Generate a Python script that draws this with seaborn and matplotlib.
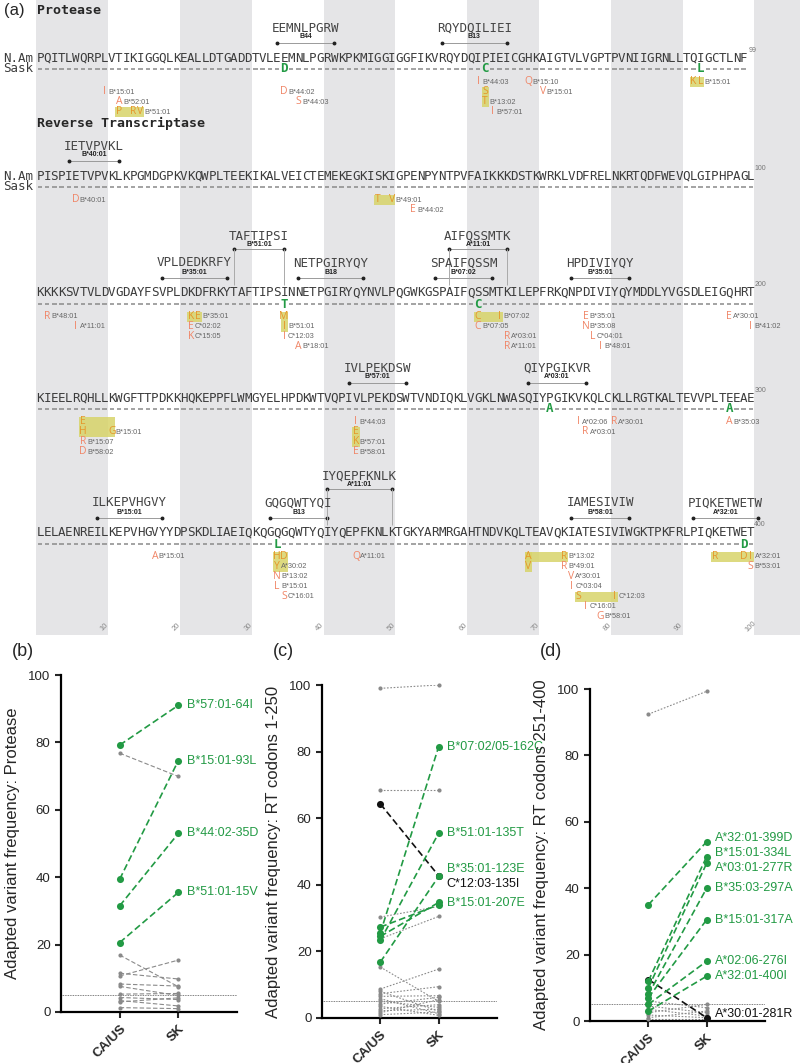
import numpy as np
import pandas as pd
import seaborn as sns
import matplotlib.pyplot as plt
from matplotlib.patches import Rectangle

# ---------------- panel (a): sequences ----------------
PROTEASE_SEQ = "PQITLWQRPLVTIKIGGQLKEALLDTGADDTVLEEMNLPGRWKPKMIGGIGGFIKVRQYDQIPIEICGHKAIGTVLVGPTPVNIIGRNLLTQIGCTLNF"
RT_SEQ_1 = "PISPIETVPVKLKPGMDGPKVKQWPLTEEKIKALVEICTEMEKEGKISKIGPENPYNTPVFAIKKKDSTKWRKLVDFRELNKRTQDFWEVQLGIPHPAGL"
RT_SEQ_2 = "KKKKSVTVLDVGDAYFSVPLDKDFRKYTAFTIPSINNETPGIRYQYNVLPQGWKGSPAIFQSSMTKILEPFRKQNPDIVIYQYMDDLYVGSDLEIGQHRT"
RT_SEQ_3 = "KIEELRQHLLKWGFTTPDKKHQKEPPFLWMGYELHPDKWTVQPIVLPEKDSWTVNDIQKLVGKLNWASQIYPGIKVKQLCKLLRGTKALTEVVPLTEEAE"
RT_SEQ_4 = "LELAENREILKEPVHGVYYDPSKDLIAEIQKQGQGQWTYQIYQEPFKNLKTGKYARMRGAHTNDVKQLTEAVQKIATESIVIWGKTPKFRLPIQKETWET"
BLOCK_SEQS = [PROTEASE_SEQ, RT_SEQ_1, RT_SEQ_2, RT_SEQ_3, RT_SEQ_4]
BLOCK_START = [1, 1, 101, 201, 301]
BLOCK_END_LABELS = ['99', '100', '200', '300', '400']

# (block, first residue, last residue, epitope, restriction, tier)
EPITOPES = [
    (0, 34, 42, 'EEMNLPGRW', 'B44', 0),
    (0, 57, 66, 'RQYDQILIEI', 'B13', 0),
    (1, 5, 12, 'IETVPVKL', 'B*40:01', 0),
    (2, 118, 127, 'VPLDEDKRFY', 'B*35:01', 0),
    (2, 128, 135, 'TAFTIPSI', 'B*51:01', 1),
    (2, 137, 146, 'NETPGIRYQY', 'B18', 0),
    (2, 156, 164, 'SPAIFQSSM', 'B*07:02', 0),
    (2, 158, 166, 'AIFQSSMTK', 'A*11:01', 1),
    (2, 175, 183, 'HPDIVIYQY', 'B*35:01', 0),
    (3, 244, 252, 'IVLPEKDSW', 'B*57:01', 0),
    (3, 269, 277, 'QIYPGIKVR', 'A*03:01', 0),
    (4, 309, 318, 'ILKEPVHGVY', 'B*15:01', 0),
    (4, 333, 341, 'GQGQWTYQI', 'B13', 0),
    (4, 341, 350, 'IYQEPFKNLK', 'A*11:01', 1),
    (4, 375, 383, 'IAMESIVIW', 'B*58:01', 0),
    (4, 392, 401, 'PIQKETWETW', 'A*32:01', 0),
]

# substitutions seen in Sask (green)
GREEN_SUBS = [(0, 35, 'D'), (0, 63, 'C'), (0, 93, 'L'),
              (2, 135, 'T'), (2, 162, 'C'),
              (3, 272, 'A'), (3, 297, 'A'),
              (4, 334, 'L'), (4, 399, 'D')]

# HLA-associated adapted variants: (block, row, [(residue, aa)], allele)
VARIANTS = [
    (0, 1, [(10, 'I')], 'B*15:01'), (0, 2, [(12, 'A')], 'B*52:01'),
    (0, 3, [(12, 'P'), (14, 'R'), (15, 'V')], 'B*51:01'),
    (0, 1, [(35, 'D')], 'B*44:02'), (0, 2, [(37, 'S')], 'B*44:03'),
    (0, 0, [(62, 'I')], 'B*44:03'), (0, 1, [(63, 'S')], ''),
    (0, 2, [(63, 'T')], 'B*13:02'), (0, 3, [(64, 'I')], 'B*57:01'),
    (0, 0, [(69, 'Q')], 'B*15:10'), (0, 1, [(71, 'V')], 'B*15:01'),
    (0, 0, [(92, 'K'), (93, 'L')], 'B*15:01'),
    (1, 0, [(6, 'D')], 'B*40:01'), (1, 0, [(48, 'T'), (50, 'V')], 'B*49:01'),
    (1, 1, [(53, 'E')], 'B*44:02'),
    (2, 0, [(102, 'R')], 'B*48:01'), (2, 1, [(106, 'I')], 'A*11:01'),
    (2, 0, [(122, 'K'), (123, 'E')], 'B*35:01'), (2, 1, [(122, 'E')], 'C*02:02'),
    (2, 2, [(122, 'K')], 'C*15:05'),
    (2, 0, [(135, 'M')], ''), (2, 1, [(135, 'I')], 'B*51:01'),
    (2, 2, [(135, 'I')], 'C*12:03'), (2, 3, [(137, 'A')], 'B*18:01'),
    (2, 0, [(162, 'C'), (165, 'I')], 'B*07:02'), (2, 1, [(162, 'C')], 'B*07:05'),
    (2, 2, [(166, 'R')], 'A*03:01'), (2, 3, [(166, 'R')], 'A*11:01'),
    (2, 0, [(177, 'E')], 'B*35:01'), (2, 1, [(177, 'N')], 'B*35:08'),
    (2, 2, [(178, 'L')], 'C*04:01'), (2, 3, [(179, 'I')], 'B*48:01'),
    (2, 0, [(197, 'E')], 'A*30:01'), (2, 1, [(200, 'I')], 'B*41:02'),
    (3, 0, [(207, 'E')], ''), (3, 1, [(207, 'H'), (211, 'G')], 'B*15:01'),
    (3, 2, [(207, 'R')], 'B*15:07'), (3, 3, [(207, 'D')], 'B*58:02'),
    (3, 0, [(245, 'I')], 'B*44:03'), (3, 1, [(245, 'E')], ''),
    (3, 2, [(245, 'K')], 'B*57:01'), (3, 3, [(245, 'E')], 'B*58:01'),
    (3, 0, [(276, 'I')], 'A*02:06'), (3, 1, [(277, 'R')], 'A*03:01'),
    (3, 0, [(281, 'R')], 'A*30:01'), (3, 0, [(297, 'A')], 'B*35:03'),
    (4, 0, [(317, 'A')], 'B*15:01'),
    (4, 0, [(334, 'H'), (335, 'D')], ''), (4, 1, [(334, 'Y')], 'A*30:02'),
    (4, 2, [(334, 'N')], 'B*13:02'), (4, 3, [(334, 'L')], 'B*15:01'),
    (4, 4, [(335, 'S')], 'C*16:01'), (4, 0, [(345, 'Q')], 'A*11:01'),
    (4, 0, [(369, 'A'), (374, 'R')], 'B*13:02'), (4, 1, [(369, 'V'), (374, 'R')], 'B*49:01'),
    (4, 2, [(375, 'V')], 'A*30:01'), (4, 3, [(375, 'I')], 'C*03:04'),
    (4, 4, [(376, 'S'), (381, 'I')], 'C*12:03'), (4, 5, [(377, 'I')], 'C*16:01'),
    (4, 6, [(379, 'G')], 'B*58:01'),
    (4, 0, [(395, 'R'), (399, 'D'), (400, 'I')], 'A*32:01'), (4, 1, [(400, 'S')], 'B*53:01'),
]

# co-occurring variants (block, first res, last res, first row, last row)
HIGHLIGHTS = [(0, 12, 15, 3, 3), (0, 63, 63, 1, 2), (0, 92, 93, 0, 0),
              (1, 48, 50, 0, 0),
              (2, 122, 123, 0, 0), (2, 135, 135, 0, 1), (2, 162, 165, 0, 0),
              (3, 207, 211, 0, 1), (3, 245, 245, 1, 2),
              (4, 334, 335, 0, 1), (4, 369, 374, 0, 0), (4, 369, 369, 0, 1),
              (4, 376, 381, 4, 4), (4, 395, 400, 0, 0)]

# ---------------- panels (b)-(d): frequencies ----------------
PR_GREEN_CA = [79.2, 39.4, 31.5, 20.6]
PR_GREEN_SK = [91.0, 74.6, 53.0, 35.5]
PR_GREEN_LABELS = ['B*57:01-64I', 'B*15:01-93L', 'B*44:02-35D', 'B*51:01-15V']
PR_GRAY_CA = [76.8, 16.9, 11.5, 10.7, 8.3, 7.6, 5.3, 4.3, 3.4, 3.0, 1.3]
PR_GRAY_SK = [69.9, 7.5, 9.8, 15.4, 7.7, 4.9, 5.5, 3.7, 1.8, 4.2, 1.0]

RT1_GREEN_CA = [25.5, 23.3, 16.8, 24.5, 27.3]
RT1_GREEN_SK = [81.5, 55.5, 42.5, 34.7, 34.0]
RT1_GREEN_LABELS = ['B*07:02/05-162C', 'B*51:01-135T', 'B*35:01-123E', 'B*15:01-207E', '']
RT1_GREEN_LABEL_Y = [81.5, 55.5, 44.8, 34.5, 34.5]
RT1_BLACK = (64.3, 42.7, 'C*12:03-135I', 40.2)
RT1_GRAY_CA = [99.0, 68.5, 30.3, 23.8, 15.3, 8.7, 8.0, 7.3, 6.5, 5.8, 5.0, 4.2, 3.5, 2.8, 2.2, 1.6, 1.0]
RT1_GRAY_SK = [100.0, 68.5, 33.5, 30.5, 5.0, 14.7, 2.0, 9.4, 6.7, 1.3, 3.2, 6.2, 0.8, 4.0, 2.6, 5.5, 1.8]

RT2_GREEN_CA = [35.0, 12.0, 10.0, 8.0, 7.0, 5.0, 3.0]
RT2_GREEN_SK = [54.0, 49.5, 47.5, 40.0, 30.5, 18.0, 13.5]
RT2_GREEN_LABELS = ['A*32:01-399D', 'B*15:01-334L', 'A*03:01-277R', 'B*35:03-297A',
                    'B*15:01-317A', 'A*02:06-276I', 'A*32:01-400I']
RT2_GREEN_LABEL_Y = [55.0, 50.5, 46.0, 40.0, 30.5, 18.0, 13.5]
RT2_BLACK = (12.5, 1.0, 'A*30:01-281R', 2.0)
RT2_GRAY_CA = [92.4, 6.0, 4.5, 3.5, 2.5, 1.8, 1.0, 0.5]
RT2_GRAY_SK = [99.3, 4.0, 2.5, 1.5, 5.0, 1.0, 3.0, 0.5]

GREEN = '#229a44'
SALMON = '#f08566'
ORANGE = '#e6962a'
HILITE = '#d8d46a'
SITES = ['CA/US', 'SK']

sns.set_style('ticks')
plt.rcParams['font.family'] = ['Liberation Sans', 'DejaVu Sans']

fig = plt.figure(figsize=(8, 10.63), dpi=100)
H = 1063.0
PX = 7.18  # pixels per residue column

# ---- (a) ----
axa = fig.add_axes([0, 1 - 635 / H, 1, 635 / H])
axa.set_xlim(1 - 40 / PX, 1 + 760 / PX)
axa.set_ylim(635, 0)
axa.axis('off')
for k in range(0, 110, 20):
    axa.axvspan(k + 0.5, k + 10.5, color='#e5e5e7', lw=0, zorder=0)

BLOCK_Y = [58, 176, 293, 398, 533]
MONO = 'DejaVu Sans Mono'
LETTER_FONT = ['Open Sans', 'DejaVu Sans']


def col(b, res):
    return res - BLOCK_START[b] + 1


def row_y(b, r):
    return BLOCK_Y[b] + 11 + 12.5 + 10 * r


axa.text(1 - 36 / PX, 10, '(a)', fontsize=12, va='center', ha='left')
axa.text(1 - 3 / PX, 10, 'Protease', fontsize=9.5, fontweight='bold', family=MONO, va='center')
axa.text(1 - 3 / PX, 123, 'Reverse Transcriptase', fontsize=9.5, fontweight='bold', family=MONO, va='center')

for b, seq in enumerate(BLOCK_SEQS):
    y = BLOCK_Y[b]
    yd = y + 11
    for i, ch in enumerate(seq):
        axa.text(i + 1, y, ch, ha='center', va='center', family=MONO, fontsize=9, color='#3c3c3c')
    green_cols = {col(b, r) for bb, r, _ in GREEN_SUBS if bb == b}
    cols = np.array([c for c in range(1, len(seq) + 1) if c not in green_cols])
    axa.hlines(np.full(len(cols), yd), cols - 0.3, cols + 0.3, color='#8a8a8a', lw=1.1)
    if b < 2:
        axa.text(1 - 37 / PX, y, 'N.Am', ha='left', va='center', family=MONO, fontsize=9, color='#3c3c3c')
        axa.text(1 - 37 / PX, yd, 'Sask', ha='left', va='center', family=MONO, fontsize=9, color='#3c3c3c')
    axa.text(len(seq) + 1.3, y - 8, BLOCK_END_LABELS[b], ha='center', va='center', fontsize=5, color='#777')

for b, r, aa in GREEN_SUBS:
    axa.text(col(b, r), BLOCK_Y[b] + 11, aa, ha='center', va='center', family=MONO,
             fontweight='bold', fontsize=9, color=GREEN)

for b, s, e, pep, hla, tier in EPITOPES:
    y = BLOCK_Y[b]
    ty, ly, by = (y - 30, y - 21, y - 15) if tier == 0 else (y - 57, y - 48, y - 44)
    cs, ce = col(b, s), col(b, e)
    axa.plot([cs, ce], [by, by], color='#9a9a9a', lw=0.7)
    axa.plot([cs, ce], [by, by], 'o', color='#222', ms=1.8)
    if tier == 1:
        axa.vlines([cs, ce], by, y - 8, color='#aaaaaa', lw=0.7)
    axa.text((cs + ce) / 2, ty, pep, ha='center', va='center', family=MONO, fontsize=9, color='#444')
    axa.text((cs + ce) / 2, ly, hla, ha='center', va='center', fontsize=5, fontweight='bold', color='#222')

for b, s, e, r0, r1 in HIGHLIGHTS:
    x0 = col(b, s) - 0.5
    y0 = row_y(b, r0) - 5
    axa.add_patch(Rectangle((x0, y0), e - s + 1, (r1 - r0 + 1) * 10,
                            facecolor=HILITE, edgecolor='none', alpha=0.85, zorder=1))


def in_highlight(b, res, r):
    return any(bb == b and s <= res <= e and r0 <= r <= r1 for bb, s, e, r0, r1 in HIGHLIGHTS)


for b, r, letters, allele in VARIANTS:
    yy = row_y(b, r)
    for res, aa in letters:
        c = ORANGE if in_highlight(b, res, r) else SALMON
        axa.text(col(b, res), yy, aa, ha='center', va='center', fontsize=7.5,
                 family=LETTER_FONT, color=c, zorder=3)
    if allele:
        axa.text(col(b, letters[-1][0]) + 0.55, yy + 0.5, allele, ha='left', va='center',
                 fontsize=5.3, color='#666', zorder=3)

for n in range(10, 101, 10):
    axa.text(n, 627, str(n), rotation=45, ha='center', va='center', fontsize=5.5, color='#888')


# ---- (b)-(d) ----
def slope_panel(rect, green_ca, green_sk, labels, label_y, gray_ca, gray_sk, gray_ls,
                black, ylabel, letter, letter_x):
    ax = fig.add_axes(rect)
    rows = []
    for i, (a, c) in enumerate(zip(gray_ca, gray_sk)):
        rows += [('gray', 'g%d' % i, 0, a), ('gray', 'g%d' % i, 1, c)]
    for i, (a, c) in enumerate(zip(green_ca, green_sk)):
        rows += [('green', 'v%d' % i, 0, a), ('green', 'v%d' % i, 1, c)]
    if black is not None:
        rows += [('black', 'k', 0, black[0]), ('black', 'k', 1, black[1])]
    df = pd.DataFrame(rows, columns=['kind', 'pair', 'site', 'freq'])

    styles = [('gray', '#8a8a8a', 0.8, gray_ls, 9),
              ('black', '#111111', 1.2, (0, (4, 2)), 26),
              ('green', GREEN, 1.2, (0, (4, 2)), 26)]
    for z, (kind, color, lw, ls, size) in enumerate(styles):
        sub = df[df['kind'] == kind]
        if sub.empty:
            continue
        sns.lineplot(data=sub, x='site', y='freq', units='pair', estimator=None, sort=False,
                     color=color, lw=lw, linestyle=ls, ax=ax, legend=False, zorder=2 + z)
        sns.scatterplot(data=sub, x='site', y='freq', color=color, s=size, linewidth=0,
                        ax=ax, legend=False, zorder=3 + z, clip_on=False)

    for lab, ly in zip(labels, label_y):
        if lab:
            ax.text(1.14, ly, lab, color=GREEN, fontsize=9, va='center', ha='left', clip_on=False)
    if black is not None:
        ax.text(1.14, black[3], black[2], color='#111', fontsize=9, va='center', ha='left')

    ax.axhline(5, color='#555', lw=0.6, ls=(0, (1, 1)), zorder=1)
    ax.set_xlim(-1, 2)
    ax.set_ylim(0, 100)
    ax.set_xticks([0, 1])
    ax.set_xticklabels(SITES, rotation=45, ha='right', rotation_mode='anchor',
                       fontweight='bold', fontsize=9.5)
    ax.set_yticks(range(0, 101, 20))
    ax.tick_params(axis='y', labelsize=9.5, width=1.5, length=4)
    ax.tick_params(axis='x', width=1.5, length=4)
    for sp in ['left', 'bottom']:
        ax.spines[sp].set_linewidth(1.6)
        ax.spines[sp].set_color('black')
    sns.despine(ax=ax)
    ax.set_xlabel('')
    ax.set_ylabel(ylabel, fontsize=12)
    ax.yaxis.set_label_coords(-0.235, 0.5)
    fig.text(letter_x / 800, 1 - 652 / H, letter, fontsize=13, va='center', ha='left')
    return ax


slope_panel([61 / 800, 1 - 1012 / H, 176 / 800, 337 / H],
            PR_GREEN_CA, PR_GREEN_SK, PR_GREEN_LABELS, PR_GREEN_SK,
            PR_GRAY_CA, PR_GRAY_SK, (0, (4, 2)), None,
            'Adapted variant frequency: Protease', '(b)', 12)
slope_panel([322 / 800, 1 - 1018 / H, 175 / 800, 333 / H],
            RT1_GREEN_CA, RT1_GREEN_SK, RT1_GREEN_LABELS, RT1_GREEN_LABEL_Y,
            RT1_GRAY_CA, RT1_GRAY_SK, (0, (1.5, 1.5)), RT1_BLACK,
            'Adapted variant frequency: RT codons 1-250', '(c)', 273)
slope_panel([590 / 800, 1 - 1021 / H, 175 / 800, 332 / H],
            RT2_GREEN_CA, RT2_GREEN_SK, RT2_GREEN_LABELS, RT2_GREEN_LABEL_Y,
            RT2_GRAY_CA, RT2_GRAY_SK, (0, (1.5, 1.5)), RT2_BLACK,
            'Adapted variant frequency: RT codons 251-400', '(d)', 540)

fig.savefig('out.png', dpi=100)
